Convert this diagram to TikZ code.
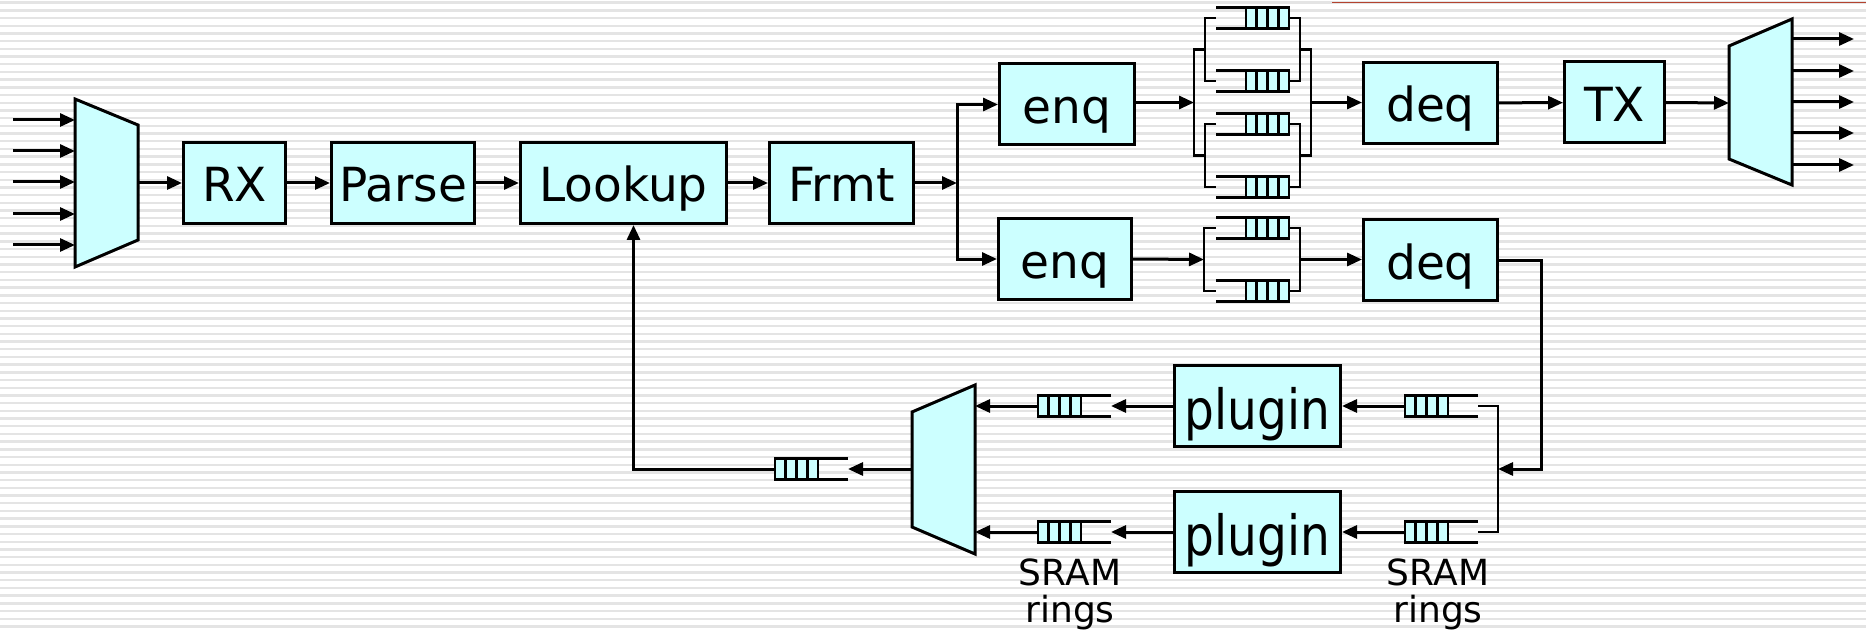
\documentclass[tikz,border=0pt]{standalone}
\usepackage{fontspec}
\setmainfont{DejaVu Sans}
\usepackage{graphicx}
\usetikzlibrary{arrows.meta, calc}

\definecolor{boxfill}{HTML}{CCFFFF}
\definecolor{stripe}{HTML}{E4E4E4}
\definecolor{rulered}{HTML}{B4432F}

\tikzset{
  blk/.style={draw, line width=3pt, fill=boxfill, minimum height=81pt, inner sep=0pt,
    font=\fontsize{47}{50}\selectfont, text height=40pt, text depth=2pt},
  plug/.style={text height=47pt, text depth=-5pt},
  lbl/.style={font=\fontsize{36}{37}\selectfont, align=center, inner sep=0pt},
  wire/.style={line width=3pt},
  thin/.style={line width=2.2pt},
  qline/.style={line width=2.6pt},
  arr/.style={wire, -{Triangle[length=15pt,width=13pt]}},
  muxsh/.style={draw, fill=boxfill, line width=3pt},
}

\newcommand{\ring}[4]{%
  \coordinate (#1-in) at (#2,#3);
  \coordinate (#1-out) at ({#2+#4*73},#3);
  \draw[qline] (#2,#3-10.5) -- ++({#4*30},0) (#2,#3+10.5) -- ++({#4*30},0);
  \filldraw[qline, fill=boxfill] ({#2+#4*30},#3-10.5) rectangle ({#2+#4*73},#3+10.5);
  \foreach \c in {1,2,3} \draw[qline] ({#2+#4*30+#4*10.75*\c},#3-10.5) -- ++(0,21);
}

\begin{document}
\begin{tikzpicture}[x=1pt, y=-1pt]
\useasboundingbox (0,0) rectangle (1866,631);
\fill[white] (0,0) rectangle (1866,631);
\foreach \y in {1.5,9.2,...,631} \fill[stripe] (0,\y) rectangle (1866,\y+2.4);
\draw[rulered, line width=1.5pt] (1332,2.5) -- (1866,2.5);

\path[muxsh] (75,99) -- (138,125) -- (138,240) -- (75,267) -- cycle;
\foreach \i/\y in {1/120,2/151,3/182,4/214,5/245} {
  \coordinate (src\i) at (13,\y);
  \coordinate (mi\i) at (75,\y);
  \draw[arr] (src\i) -- (mi\i);
}
\coordinate (mux1-out) at (138,183);

\node[blk, minimum width=102pt] (rx) at (234.5,183) {RX};
\node[blk, minimum width=143pt] (parse) at (403,183) {Parse};
\node[blk, minimum width=206pt] (lookup) at (623.5,183) {Lookup};
\node[blk, minimum width=144pt] (frmt) at (841.5,183) {Frmt};
\node[blk, minimum width=135pt] (enq1) at (1067,104.5) {enq};
\node[blk, minimum width=133pt] (enq2) at (1065,259) {enq};
\node[blk, minimum width=134pt] (deq1) at (1430.5,103) {deq};
\node[blk, minimum width=134pt] (deq2) at (1430.5,260) {deq};
\node[blk, minimum width=100pt] (tx) at (1614.5,102.5) {TX};
\node[blk, plug, minimum width=166pt] (plugin1) at (1257.5,406) {\scalebox{1}[1.18]{plugin}};
\node[blk, plug, minimum width=166pt] (plugin2) at (1257.5,532) {\scalebox{1}[1.18]{plugin}};

\draw[arr] (mux1-out) -- (rx.west);
\draw[arr] (rx) -- (parse);
\draw[arr] (parse) -- (lookup);
\draw[arr] (lookup) -- (frmt);
\coordinate (fork) at (957,183);
\draw[arr] (frmt) -- (fork);
\draw[arr] (fork) |- (enq1.west);
\draw[arr] (fork) |- (enq2.west);

\ring{q1}{1216}{18}{1}
\ring{q2}{1216}{81}{1}
\ring{q3}{1216}{124}{1}
\ring{q4}{1216}{187}{1}
\draw[thin] (q1-in) -- ++(-11,0) |- (q2-in);
\draw[thin] (q3-in) -- ++(-11,0) |- (q4-in);
\draw[thin] (q1-out) -- ++(11,0) |- (q2-out);
\draw[thin] (q3-out) -- ++(11,0) |- (q4-out);
\coordinate (jl1) at ($(q1-in)!0.5!(q2-in)+(-11,0)$);
\coordinate (jl2) at ($(q3-in)!0.5!(q4-in)+(-11,0)$);
\coordinate (jr1) at ($(q1-out)!0.5!(q2-out)+(11,0)$);
\coordinate (jr2) at ($(q3-out)!0.5!(q4-out)+(11,0)$);
\draw[thin] (jl1) -- ++(-11,0) |- (jl2);
\draw[thin] (jr1) -- ++(11,0) |- (jr2);
\coordinate (split1) at ($(jl1)!0.5!(jl2)+(-11,0)$);
\coordinate (merge1) at ($(jr1)!0.5!(jr2)+(11,0)$);
\draw[arr] (enq1.east |- split1) -- (split1);
\draw[arr] (merge1) -- (deq1.west |- merge1);

\ring{q5}{1216}{228}{1}
\ring{q6}{1216}{291}{1}
\draw[thin] (q5-in) -- ++(-12,0) |- (q6-in);
\draw[thin] (q5-out) -- ++(11,0) |- (q6-out);
\coordinate (split2) at ($(q5-in)!0.5!(q6-in)+(-12,0)$);
\coordinate (merge2) at ($(q5-out)!0.5!(q6-out)+(11,0)$);
\draw[arr] (enq2.east) -- (split2);
\draw[arr] (merge2) -- (deq2.west |- merge2);

\draw[arr] (deq1) -- (tx);
\path[muxsh] (1729,46) -- (1792,19) -- (1792,185) -- (1729,159) -- cycle;
\coordinate (mux3-in) at (1729,103);
\draw[arr] (tx.east) -- (mux3-in);
\foreach \i/\y in {1/39,2/71,3/102,4/133,5/165} {
  \coordinate (mo\i) at (1792,\y);
  \coordinate (dst\i) at (1854,\y);
  \draw[arr] (mo\i) -- (dst\i);
}

\ring{r1}{1478}{406}{-1}
\ring{r2}{1478}{532}{-1}
\draw[thin] (r1-in) -- ++(20,0) |- (r2-in);
\coordinate (split3) at ($(r1-in)!0.5!(r2-in)+(20,0)$);
\draw[arr] (deq2.east) -- ++(42,0) |- (split3);
\draw[arr] (r1-out) -- (plugin1.east);
\draw[arr] (r2-out) -- (plugin2.east);

\ring{r3}{1111}{406}{-1}
\ring{r4}{1111}{532}{-1}
\draw[arr] (plugin1.west) -- (r3-in);
\draw[arr] (plugin2.west) -- (r4-in);
\path[muxsh] (912,412) -- (975,385) -- (975,554) -- (912,527) -- cycle;
\coordinate (mux2-in1) at (975,406);
\coordinate (mux2-in2) at (975,532);
\coordinate (mux2-out) at (912,469);
\draw[arr] (r3-out) -- (mux2-in1);
\draw[arr] (r4-out) -- (mux2-in2);
\ring{r5}{848}{469}{-1}
\draw[arr] (mux2-out) -- (r5-in);
\draw[arr] (r5-out) -| ([xshift=10pt]lookup.south);

\node[lbl, anchor=north] (sram1) at (1070,559) {SRAM\\rings};
\node[lbl, anchor=north] (sram2) at (1438,559) {SRAM\\rings};
\end{tikzpicture}
\end{document}
